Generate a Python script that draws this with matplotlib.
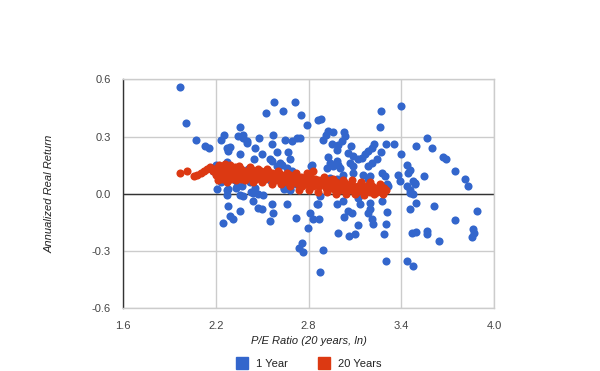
import matplotlib
matplotlib.use("Agg")
import matplotlib.pyplot as plt
from matplotlib.lines import Line2D

plt.rcParams['font.family'] = ['Liberation Sans', 'DejaVu Sans']

# ---------------- data ----------------
series_names = ['1 Year', '20 Years']

one_year_pe = [
    1.969, 2.008, 2.069, 2.131, 2.155, 2.198, 2.208, 2.232, 2.25, 2.273, 2.29, 2.276, 2.269,
    2.357, 2.344, 2.373, 2.399, 2.357, 2.452, 2.448, 2.478, 2.5, 2.524, 2.575, 2.634, 2.711,
    2.752, 2.787, 2.571, 2.564, 2.645, 2.69, 2.744, 2.722, 2.597, 2.664, 2.55, 2.56, 2.614,
    2.679, 2.593, 2.658, 2.405, 2.69, 2.813, 2.377, 2.399, 2.182, 2.63,
    2.27, 2.33, 2.37, 2.43, 2.47, 2.64, 2.68, 2.23, 2.25, 2.32, 2.42, 2.55, 2.72,
    2.862, 2.878, 2.927, 2.96, 2.912, 2.894, 3.03, 3.035, 2.949, 2.992, 2.981, 3.014, 3.072,
    3.056, 3.089, 2.927, 2.938, 2.981, 3.003, 2.823, 3.268, 3.399, 3.261, 3.3, 3.354, 3.223,
    3.208, 3.186, 3.164, 3.143, 3.121, 3.266, 3.244, 3.208, 3.186, 3.067, 3.089, 3.399, 3.496,
    3.566, 3.6, 3.671, 3.687, 3.747, 3.812, 3.833, 3.434, 3.456, 3.445, 3.38, 3.477, 3.546,
    3.488, 3.391, 3.434, 3.456, 3.272, 3.294, 3.197, 3.186, 3.305,
    2.917, 2.96, 2.992, 3.024, 3.089, 3.153, 2.938, 2.981,
    2.873, 2.862, 2.808, 2.83, 2.869, 2.797, 2.755, 2.761, 2.894, 2.873, 2.981, 3.024, 2.992,
    3.063, 3.1, 3.121, 3.03, 3.056, 3.078, 3.132, 3.121, 3.197, 3.186, 3.208, 3.214, 3.197,
    3.272, 3.309, 3.3, 3.289, 3.298, 3.315, 3.456, 3.495, 3.47, 3.495, 3.434, 3.473, 3.564,
    3.568, 3.645, 3.611, 3.747, 3.887, 3.865, 3.872, 3.857, 3.456, 3.477, 3.488,
    2.28, 2.269, 2.334, 2.355, 2.377, 2.442, 2.452, 2.506, 2.28, 2.29, 2.312, 2.243, 2.355,
    2.442, 2.474, 2.496, 2.56, 2.571, 2.55, 2.64, 2.679, 2.661, 2.718, 2.852, 2.737,
]
one_year_ret = [
    0.562, 0.372, 0.284, 0.253, 0.241, 0.153, 0.023, 0.284, 0.307, 0.241, 0.244, 0.223, 0.165,
    0.351, 0.305, 0.309, 0.275, 0.206, 0.241, 0.183, 0.293, 0.206, 0.424, 0.482, 0.436, 0.482,
    0.414, 0.361, 0.307, 0.263, 0.284, 0.275, 0.293, 0.29, 0.218, 0.22, 0.18, 0.171, 0.162,
    0.18, 0.145, 0.136, 0.131, 0.118, 0.145, 0.293, 0.264, 0.118, 0.15,
    0.02, 0.03, 0.04, 0.01, 0.0, 0.03, 0.02, 0.06, 0.08, 0.07, 0.06, 0.07, 0.05,
    0.385, 0.393, 0.328, 0.325, 0.31, 0.284, 0.325, 0.302, 0.263, 0.258, 0.232, 0.275, 0.253,
    0.215, 0.197, 0.194, 0.162, 0.171, 0.136, 0.15, 0.436, 0.462, 0.351, 0.262, 0.262, 0.263,
    0.241, 0.223, 0.206, 0.188, 0.18, 0.218, 0.183, 0.162, 0.145, 0.162, 0.145, 0.206, 0.249,
    0.293, 0.241, 0.194, 0.183, 0.122, 0.075, 0.043, 0.153, 0.127, 0.11, 0.101, 0.066, 0.092,
    0.058, 0.066, 0.04, 0.005, 0.11, 0.092, 0.092, 0.075, 0.049,
    0.136, 0.145, 0.153, 0.1, 0.11, 0.1, 0.083, 0.075,
    -0.012, -0.056, -0.1, -0.134, -0.134, -0.178, -0.257, -0.306, -0.297, -0.408, -0.056, -0.039, -0.204,
    -0.222, -0.213, -0.166, -0.122, -0.091, -0.1, -0.056, -0.021, -0.082, -0.1, -0.134, -0.16, -0.047,
    -0.039, -0.096, -0.157, -0.213, -0.353, 0.04, -0.079, -0.047, -0.208, -0.199, -0.353, -0.379, -0.196,
    -0.213, -0.245, -0.065, -0.135, -0.091, -0.187, -0.204, -0.225, 0.02, 0.0, 0.05,
    0.023, -0.004, 0.04, -0.004, -0.012, 0.005, 0.031, -0.004, -0.065, -0.114, -0.134, -0.155, -0.091,
    -0.039, -0.073, -0.082, -0.056, -0.1, -0.143, 0.023, 0.023, -0.056, -0.126, -0.056, -0.286,
]

twenty_year_pe = [
    1.97, 2.01, 2.06, 2.08, 2.10, 2.12, 2.14, 2.16, 2.18, 2.19,
    2.20, 2.21, 2.22, 2.23, 2.24, 2.25, 2.26, 2.27, 2.28, 2.29, 2.30, 2.31, 2.32, 2.33, 2.34,
    2.35, 2.36, 2.37, 2.38, 2.39, 2.40, 2.41, 2.42, 2.43, 2.44, 2.45, 2.46, 2.47, 2.48, 2.49,
    2.50, 2.51, 2.52, 2.53, 2.54, 2.55, 2.56, 2.57, 2.58, 2.59, 2.60, 2.61, 2.62, 2.63, 2.64,
    2.65, 2.66, 2.67, 2.68, 2.69, 2.70, 2.71, 2.72, 2.73, 2.74, 2.75, 2.76, 2.77, 2.78, 2.79,
    2.80, 2.81, 2.82, 2.83, 2.84, 2.85, 2.86, 2.87, 2.88, 2.89, 2.90, 2.91, 2.92, 2.93, 2.94,
    2.95, 2.96, 2.97, 2.98, 2.99, 3.00, 3.01, 3.02, 3.03, 3.04, 3.05, 3.06, 3.07, 3.08, 3.09,
    3.10, 3.11, 3.12, 3.13, 3.14, 3.15, 3.16, 3.17, 3.18, 3.19, 3.20, 3.21, 3.22, 3.23, 3.24,
    3.25, 3.26, 3.27, 3.28, 3.29, 3.30,
    2.21, 2.24, 2.27, 2.30, 2.33, 2.36, 2.39, 2.22, 2.26, 2.29, 2.35, 2.42,
    2.44, 2.50, 2.56, 2.62, 2.68, 2.47, 2.53, 2.60, 2.66,
    2.74, 2.80, 2.86, 2.92, 2.98, 2.72, 2.79, 2.83, 2.90, 2.96,
    3.04, 3.10, 3.16, 3.22, 3.28, 3.02, 3.08, 3.14, 3.20, 3.26,
]
twenty_year_ret = [
    0.11, 0.12, 0.095, 0.10, 0.11, 0.12, 0.13, 0.14, 0.12, 0.13,
    0.10, 0.14, 0.12, 0.09, 0.13, 0.11, 0.14, 0.10, 0.12, 0.09, 0.13, 0.11, 0.14, 0.10, 0.12,
    0.09, 0.13, 0.11, 0.12, 0.10, 0.12, 0.09, 0.11, 0.13, 0.10, 0.12, 0.08, 0.11, 0.10, 0.12,
    0.09, 0.11, 0.08, 0.10, 0.12, 0.09, 0.11, 0.08, 0.10, 0.07, 0.09, 0.11, 0.08, 0.10, 0.07,
    0.09, 0.06, 0.08, 0.10, 0.07, 0.09, 0.06, 0.08, 0.05, 0.07, 0.09, 0.04, 0.06, 0.08, 0.05,
    0.07, 0.10, 0.06, 0.04, 0.08, 0.05, 0.07, 0.04, 0.06, 0.08, 0.05, 0.03, 0.06, 0.04, 0.07,
    0.03, 0.05, 0.02, 0.06, 0.04, 0.02, 0.05, 0.03, 0.06, 0.02, 0.04, 0.03, 0.05, 0.02, 0.04,
    0.03, 0.01, 0.04, 0.02, 0.05, 0.03, 0.01, 0.04, 0.02, 0.03, 0.01, 0.04, 0.02, 0.03, 0.01,
    0.03, 0.02, 0.04, 0.01, 0.03, 0.02,
    0.07, 0.08, 0.06, 0.08, 0.07, 0.08, 0.07, 0.15, 0.155, 0.15, 0.145, 0.14,
    0.06, 0.06, 0.05, 0.05, 0.04, 0.13, 0.13, 0.12, 0.11,
    0.02, 0.02, 0.01, 0.01, 0.0, 0.11, 0.11, 0.12, 0.09, 0.08,
    0.0, 0.0, -0.005, 0.0, 0.0, 0.07, 0.07, 0.06, 0.06, 0.05,
]

x_ticks = [1.6, 2.2, 2.8, 3.4, 4.0]
y_ticks = [-0.6, -0.3, 0.0, 0.3, 0.6]

blue = '#3366cc'
red = '#dc3912'

# ---------------- figure ----------------
fig = plt.figure(figsize=(6.0, 3.71), dpi=100)
fig.set_facecolor('white')
ax = fig.add_axes([0.2055, 0.169, 0.6178, 0.6173])

ax.scatter(one_year_pe, one_year_ret, s=34, color=blue, linewidths=0, zorder=3)
ax.scatter(twenty_year_pe, twenty_year_ret, s=34, color=red, linewidths=0, zorder=4)

ax.set_xlim(1.6, 4.0)
ax.set_ylim(-0.6, 0.6)
ax.set_xticks(x_ticks)
ax.set_xticklabels(['%.1f' % v for v in x_ticks])
ax.set_yticks(y_ticks)
ax.set_yticklabels(['%.1f' % v for v in y_ticks])
ax.tick_params(length=0, labelsize=8, colors='#444444', pad=9)

ax.grid(True, color='#cccccc', linewidth=1, zorder=0)
ax.set_axisbelow(True)
for side in ['top', 'right', 'bottom']:
    ax.spines[side].set_color('#cccccc')
    ax.spines[side].set_linewidth(1)
ax.spines['left'].set_color('#333333')
ax.spines['left'].set_linewidth(1)
ax.axhline(0, color='#333333', linewidth=1, zorder=2)

ax.set_xlabel('P/E Ratio (20 years, ln)', fontsize=8, style='italic', color='#222222', labelpad=4)
ax.set_ylabel('Annualized Real Return', fontsize=8, style='italic', color='#222222', labelpad=27)

handles = [Line2D([], [], marker='s', linestyle='', markersize=9, color=c) for c in (blue, red)]
fig.legend(handles, series_names, loc='center', bbox_to_anchor=(0.51, 0.02), ncol=2,
           frameon=False, fontsize=8, handletextpad=0.3, columnspacing=2.2,
           labelcolor='#222222', bbox_transform=fig.transFigure)

fig.savefig('out.png', dpi=100)
